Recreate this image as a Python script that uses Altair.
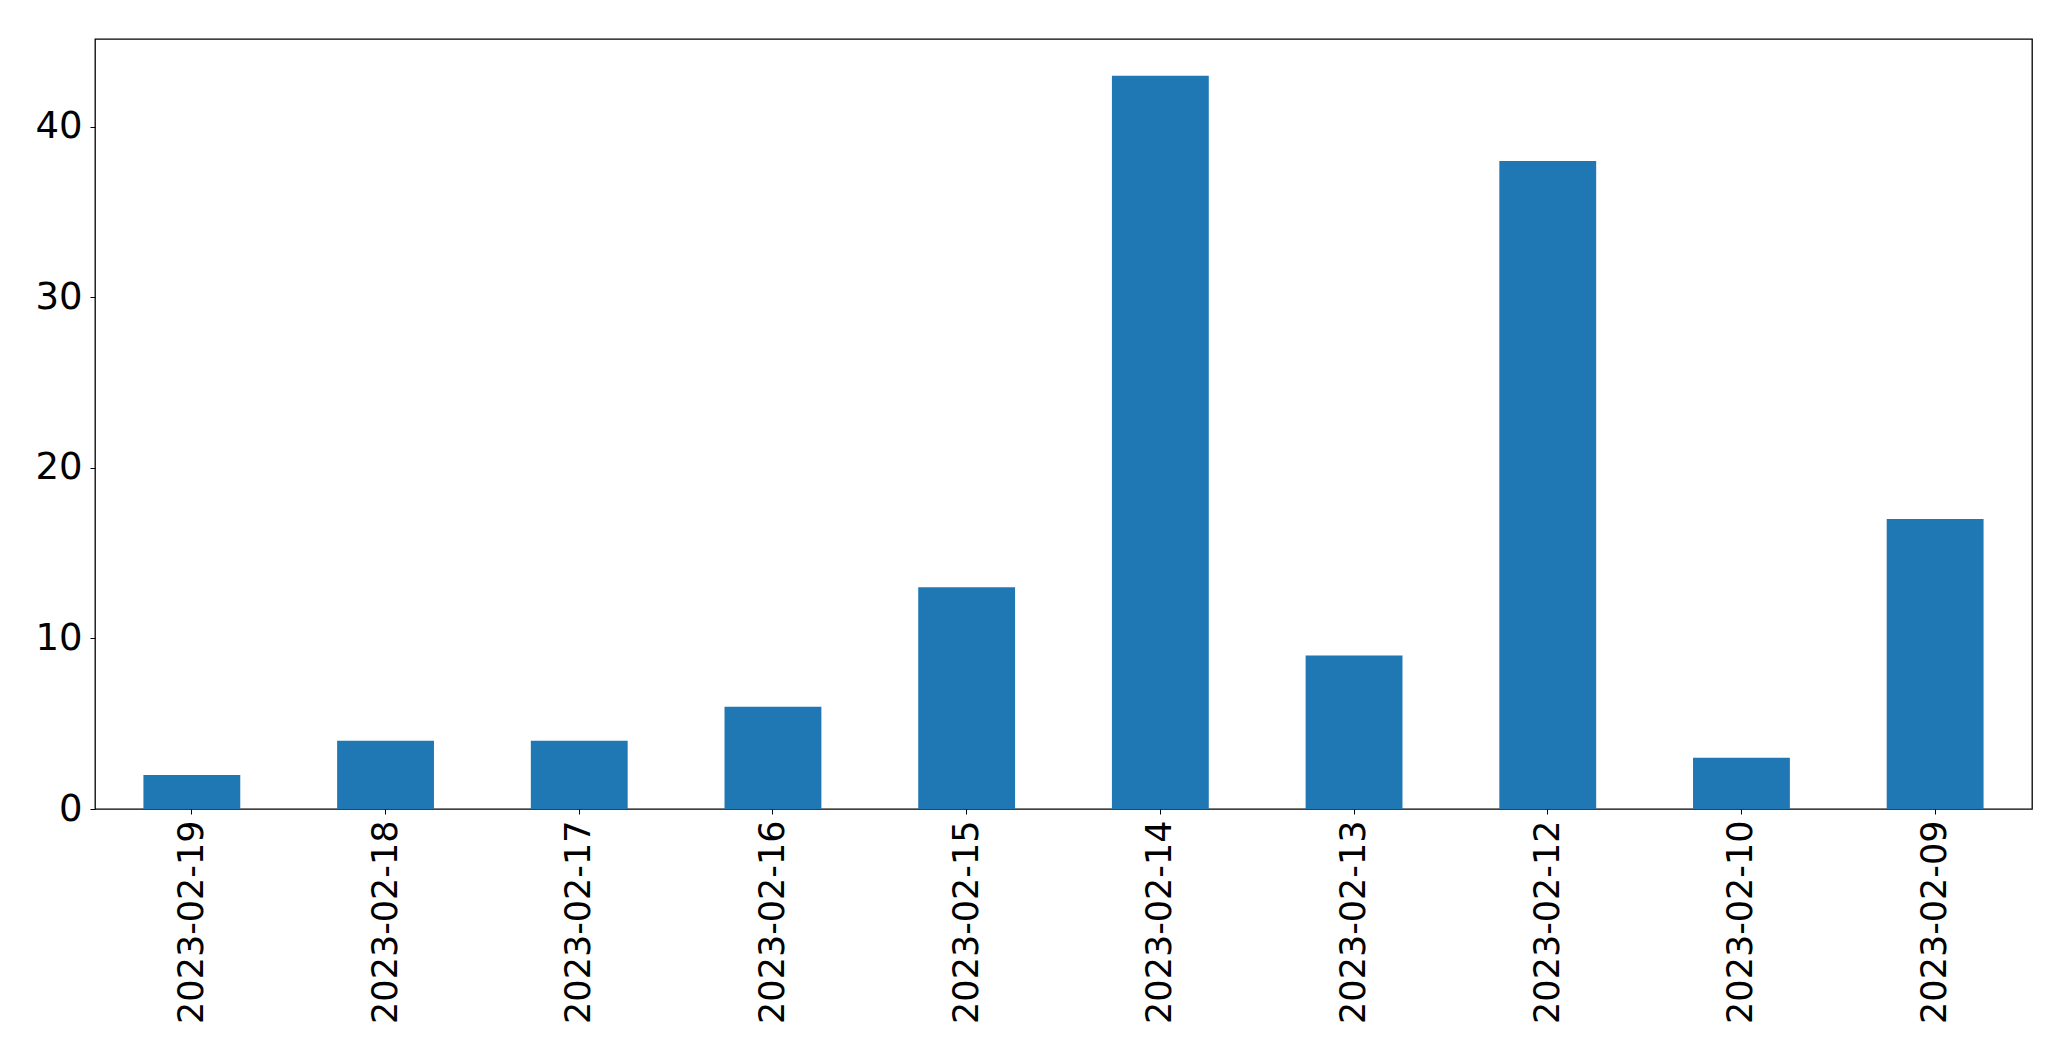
import altair as alt
import pandas as pd

dates = ["2023-02-19", "2023-02-18", "2023-02-17", "2023-02-16", "2023-02-15",
         "2023-02-14", "2023-02-13", "2023-02-12", "2023-02-10", "2023-02-09"]
counts = [2, 4, 4, 6, 13, 43, 9, 38, 3, 17]
y_ticks = [0, 10, 20, 30, 40]

df = pd.DataFrame({"date": dates, "count": counts})

FONT = "DejaVu Sans"

chart = alt.Chart(df).mark_bar(color="#1f77b4").encode(
    x=alt.X("date:N", sort=dates, title=None,
            scale=alt.Scale(paddingInner=0.5, paddingOuter=0.25),
            axis=alt.Axis(labelAngle=-90, labelFont=FONT, labelFontSize=35,
                          labelColor="black", tickColor="black", tickSize=5,
                          tickWidth=1, labelPadding=6, labelLimit=0,
                          domain=False, grid=False)),
    y=alt.Y("count:Q", title=None,
            scale=alt.Scale(domain=[0, 45.15], nice=False, zero=True),
            axis=alt.Axis(values=y_ticks, labelFont=FONT, labelFontSize=37,
                          labelColor="black", tickColor="black", tickSize=5,
                          tickWidth=1, labelPadding=8, domain=False, grid=False)),
).properties(
    width=1937,
    height=770,
    autosize=alt.AutoSizeParams(type="none"),
    padding={"left": 87, "top": 31, "right": 30, "bottom": 240},
    background="white",
).configure_view(
    stroke="black", strokeWidth=1.3
)

chart.save("out.html", embed_options={"renderer": "svg", "actions": False})
